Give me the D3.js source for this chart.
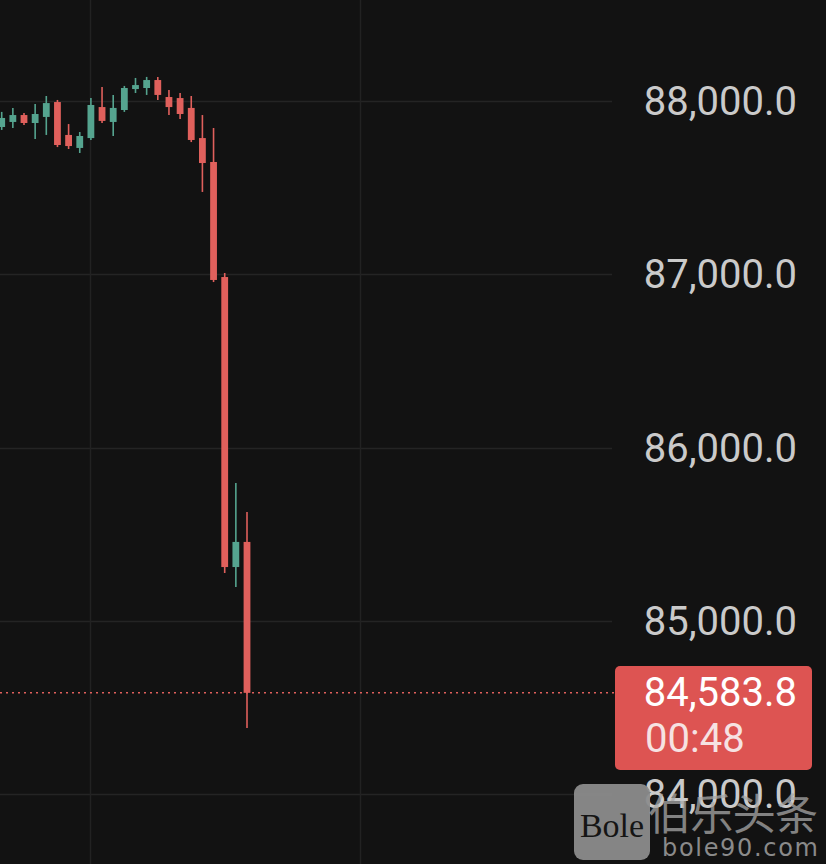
<!DOCTYPE html>
<html>
<head>
<meta charset="utf-8">
<script src="https://cdn.jsdelivr.net/npm/d3@7"></script>
<style>
  html, body { margin: 0; padding: 0; background: #121212; }
  svg { display: block; }
</style>
</head>
<body>
<svg id="chart" width="826" height="864"></svg>
<script>
// ---- data (BTC 1-min candles) ----
const opens  = [87850, 87879, 87919, 87873, 87908, 87994, 87804, 87729, 87786, 87965, 87879, 87948, 88069, 88075, 88121, 88023, 88017, 87960, 87786, 87648, 86984, 85310, 85455];
const highs  = [87937, 87960, 87931, 87983, 88029, 88006, 87867, 87821, 88017, 88081, 88035, 88087, 88133, 88139, 88139, 88063, 88046, 88029, 87919, 87844, 87007, 85795, 85628];
const lows   = [87833, 87844, 87861, 87781, 87804, 87734, 87723, 87700, 87775, 87873, 87798, 87937, 88046, 88035, 88006, 87919, 87896, 87763, 87475, 86955, 85276, 85195, 84381];
const closes = [87902, 87919, 87873, 87925, 87988, 87746, 87740, 87798, 87977, 87885, 87960, 88075, 88092, 88121, 88035, 87965, 87925, 87775, 87642, 86967, 85310, 85455, 84583.8];
const priceTicks = [84000, 85000, 86000, 87000, 88000];
const timeGrid = [7.95, 32.15];          // vertical grid positions in candle units
const lastPrice = 84583.8;
const countdown = "00:48";

// ---- setup ----
const svg = d3.select("#chart");
const W = 826, H = 864;
svg.append("rect").attr("width", W).attr("height", H).attr("fill", "#121212");

const y = d3.scaleLinear().domain([84000, 88000]).range([794, 101]);
const x = d3.scaleLinear().domain([0, opens.length - 1]).range([1.7, 247]);
const plotRight = 612;

const up = "#55a48f", down = "#e0605c";
const fmt = d3.format(",.1f");

// grid
const grid = svg.append("g");
grid.selectAll("line.h").data(priceTicks).join("line")
  .attr("x1", 0).attr("x2", plotRight)
  .attr("y1", d => Math.round(y(d)) + 0.5).attr("y2", d => Math.round(y(d)) + 0.5)
  .attr("stroke", "#242424").attr("stroke-width", 1.5);
grid.selectAll("line.v").data(timeGrid).join("line")
  .attr("x1", d => Math.round(x(d)) + 0.5).attr("x2", d => Math.round(x(d)) + 0.5)
  .attr("y1", 0).attr("y2", H)
  .attr("stroke", "#222222").attr("stroke-width", 1.5);

// candles
const candles = opens.map((o, i) => ({ i, o, h: highs[i], l: lows[i], c: closes[i] }));
const cg = svg.append("g").selectAll("g").data(candles).join("g");
cg.append("line")
  .attr("x1", d => x(d.i)).attr("x2", d => x(d.i))
  .attr("y1", d => y(d.h)).attr("y2", d => y(d.l))
  .attr("stroke", d => d.c >= d.o ? up : down).attr("stroke-width", 1.6);
const bw = 6.8;
cg.append("rect")
  .attr("x", d => x(d.i) - bw / 2).attr("width", bw)
  .attr("y", d => y(Math.max(d.o, d.c)))
  .attr("height", d => Math.max(1.5, Math.abs(y(d.o) - y(d.c))))
  .attr("fill", d => d.c >= d.o ? up : down);

// last price dotted line
svg.append("line")
  .attr("x1", 0).attr("x2", 616)
  .attr("y1", y(lastPrice)).attr("y2", y(lastPrice))
  .attr("stroke", down).attr("stroke-width", 1.5)
  .attr("stroke-dasharray", "2,4");

// price axis
const axis = d3.axisLeft(y).tickValues(priceTicks).tickFormat(fmt).tickSize(0).tickPadding(0);
const ag = svg.append("g").attr("transform", "translate(797,0)").call(axis);
ag.select(".domain").remove();
ag.selectAll("text")
  .attr("fill", "#cacaca")
  .style("font-family", "Roboto, 'Open Sans', sans-serif")
  .style("font-size", "40px")
  .attr("dy", "0.34em");

// last price label
const lg = svg.append("g");
lg.append("rect")
  .attr("x", 615).attr("y", 666).attr("width", 197).attr("height", 104)
  .attr("rx", 5).attr("fill", "#dd5452");
lg.append("text")
  .attr("x", 797).attr("y", y(lastPrice)).attr("dy", "0.34em")
  .attr("text-anchor", "end").attr("fill", "#ffffff")
  .style("font-family", "Roboto, sans-serif").style("font-size", "40px")
  .text(fmt(lastPrice));
lg.append("text")
  .attr("x", 645).attr("y", 738).attr("dy", "0.34em")
  .attr("text-anchor", "start").attr("fill", "#f6e2e2")
  .style("font-family", "Roboto, sans-serif").style("font-size", "40px")
  .text(countdown);

// watermark
const wm = svg.append("g");
wm.append("rect").attr("x", 574).attr("y", 784).attr("width", 76).attr("height", 76)
  .attr("rx", 9).attr("fill", "#8c8c8c").attr("opacity", 0.95);
wm.append("text").attr("x", 612).attr("y", 837).attr("text-anchor", "middle")
  .attr("fill", "#151515")
  .style("font-family", "'Liberation Serif', 'DejaVu Serif', serif").style("font-size", "34px")
  .text("Bole");
wm.append("text").attr("x", 648).attr("y", 830)
  .attr("fill", "#a8a8a8").attr("opacity", 0.75)
  .style("font-family", "'Noto Sans CJK SC', sans-serif").style("font-size", "43px")
  .attr("textLength", 170)
  .text("伯乐头条");
wm.append("text").attr("x", 662).attr("y", 856)
  .attr("fill", "#8a8a8a")
  .style("font-family", "'DejaVu Sans', sans-serif").style("font-size", "24px")
  .attr("textLength", 156)
  .text("bole90.com");
</script>
</body>
</html>
